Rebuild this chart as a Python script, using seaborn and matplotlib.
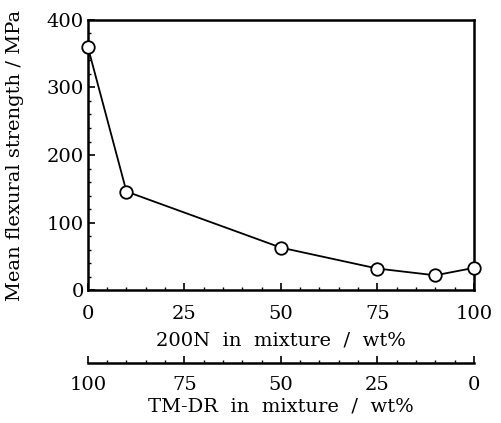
import matplotlib
matplotlib.use("Agg")
import matplotlib.pyplot as plt
import seaborn as sns
import pandas as pd

# data
content_200n = [0, 10, 50, 75, 90, 100]
strength = [360, 146, 63, 32, 22, 33]
x_ticks = [0, 25, 50, 75, 100]
y_ticks = [0, 100, 200, 300, 400]

sns.set_theme(style="ticks")
plt.rcParams['font.family'] = ['DejaVu Serif', 'Liberation Serif']
plt.rcParams.update({"text.color": "black", "axes.labelcolor": "black",
                     "xtick.color": "black", "ytick.color": "black",
                     "axes.edgecolor": "black"})

df = pd.DataFrame({"x": content_200n, "y": strength})

fig = plt.figure(figsize=(5.02, 4.23), dpi=100)
ax = fig.add_axes([0.175, 0.314, 0.769, 0.639])

sns.lineplot(data=df, x="x", y="y", ax=ax, color="black", linewidth=1.3,
             marker="o", markersize=9, markerfacecolor="white",
             markeredgecolor="black", markeredgewidth=1.3, clip_on=False,
             zorder=5)

ax.set_xlim(0, 100)
ax.set_ylim(0, 400)
ax.set_xticks(x_ticks)
ax.set_yticks(y_ticks)
ax.set_xticks(range(0, 101, 5), minor=True)
ax.set_yticks(range(0, 401, 20), minor=True)
ax.tick_params(axis="both", which="both", direction="in", color="black",
               labelcolor="black", labelsize=14, top=False, right=False)
ax.tick_params(which="major", length=5, width=1.2)
ax.tick_params(which="minor", length=2.5, width=1)
ax.tick_params(axis="x", pad=11)
ax.tick_params(axis="y", pad=3)
for s in ax.spines.values():
    s.set_linewidth(1.8)
    s.set_color("black")

ax.set_xlabel("200N  in  mixture  /  wt%", fontsize=14, labelpad=6, color="black")
ax.set_ylabel("Mean flexural strength / MPa", fontsize=14, labelpad=16, color="black")

sec = ax.secondary_xaxis(-0.27, functions=(lambda v: 100 - v, lambda v: 100 - v))
sec.set_xticks(x_ticks)
sec.set_xticks(range(0, 101, 5), minor=True)
sec.tick_params(axis="x", which="both", direction="in", labelsize=14, pad=9,
                color="black", labelcolor="black")
sec.tick_params(which="major", length=5, width=1.2)
sec.tick_params(which="minor", length=2.5, width=1)
sec.spines["bottom"].set_linewidth(1.8)
sec.spines["bottom"].set_color("black")
sec.set_xlabel("TM-DR  in  mixture  /  wt%", fontsize=14, labelpad=3, color="black")

fig.savefig("out.png", dpi=100)
